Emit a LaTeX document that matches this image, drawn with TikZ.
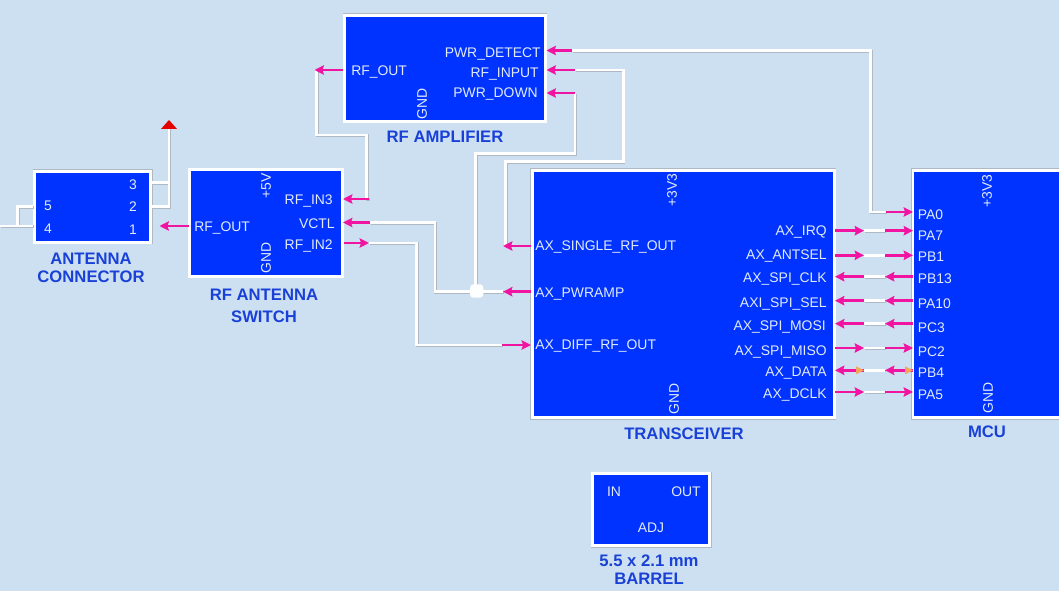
\documentclass[tikz,border=0pt]{standalone}
\usepackage{fontspec}
\setmainfont{Liberation Sans}
\usetikzlibrary{arrows.meta}
\definecolor{bgc}{RGB}{205,224,242}
\definecolor{boxc}{RGB}{0,51,255}
\definecolor{edgec}{RGB}{175,185,195}
\definecolor{txtc}{RGB}{225,235,250}
\definecolor{ttlc}{RGB}{25,65,215}
\definecolor{pinc}{RGB}{240,20,160}
\definecolor{orgc}{RGB}{245,165,90}
\newcommand{\lblfont}{\fontsize{10.45}{12}\selectfont}
\newcommand{\ttlfont}{\bfseries\fontsize{12.5}{13.4}\selectfont}
\tikzset{
  blk/.style 2 args={rectangle,fill=boxc,draw=white,line width=2.2pt,inner sep=0pt,
    preaction={draw=edgec,line width=3pt},
    minimum width=#1*0.75pt,minimum height=#2*0.75pt},
  lbl/.style={inner sep=0pt,text=txtc,font=\lblfont,text height=7.4pt,text depth=0pt},
  ll/.style={lbl,anchor=west},
  lr/.style={lbl,anchor=east},
  lv/.style={lbl,rotate=90},
  ttl/.style={inner sep=0pt,text=ttlc,font=\ttlfont,align=center},
  wire/.style={draw=white,line width=2pt,line join=miter,
    preaction={draw=edgec,line width=2pt,transform canvas={xshift=0.55pt,yshift=-0.55pt}}},
  pin/.style={draw=pinc,line width=2pt,-{Stealth[length=7pt,width=7pt,inset=1pt]}},
  junc/.style={rectangle,rounded corners=2.5pt,fill=white!96!bgc,inner sep=0pt,minimum size=10pt},
  otip/.style={fill=orgc},
}
\begin{document}
\begin{tikzpicture}[x=0.75pt,y=-0.75pt]
\clip (0,0) rectangle (1059,591);
\fill[bgc] (0,0) rectangle (1059,591);

% blocks
\node[blk={116}{71}]  (conn) at (92.5,207) {};
\node[blk={152.5}{106.5}] (sw) at (266.2,223.2) {};
\node[blk={200.5}{106}] (amp) at (445,68.5) {};
\node[blk={302}{247}] (trx) at (683.2,294) {};
\node[blk={200}{247}] (mcu) at (1013,294) {};
\node[blk={117}{72}] (bar) at (651,509.5) {};

% named pin and bend points
\coordinate (c3) at (152,182.7);
\coordinate (c2) at (152,206.7);
\coordinate (c5) at (33,206.7);
\coordinate (c4) at (33,226);
\coordinate (cfree) at (0,226);
\coordinate (ctop) at (169,127);
\coordinate (cw) at (159.5,226);
\coordinate (swo) at (188.5,226);
\coordinate (swi3) at (343,199);
\coordinate (swi3t) at (369,199);
\coordinate (swv) at (343,222.5);
\coordinate (swvt) at (370,222.5);
\coordinate (swi2) at (344,243);
\coordinate (swi2t) at (369,243);
\coordinate (ampo) at (343,70);
\coordinate (ampot) at (314.5,70);
\coordinate (ampd) at (546.5,50.5);
\coordinate (ampdt) at (572,50.5);
\coordinate (ampi) at (546.5,70);
\coordinate (ampit) at (575,70);
\coordinate (ampw) at (546.5,93);
\coordinate (ampwt) at (575,93);
\coordinate (trs) at (531,246);
\coordinate (trst) at (503,246);
\coordinate (trp) at (531,291.7);
\coordinate (trpt) at (503,291.7);
\coordinate (trd) at (531,345);
\coordinate (trdt) at (502,345);
\coordinate (m0) at (913,212);
\coordinate (m0t) at (886,212);

% white wires
\draw[wire] (c3) -- (169,182.7) (c2) -- (169,206.7) -- (ctop);
\draw[wire] (c5) -- (17.5,206.7) -- (17.5,226);
\draw[wire] (c4) -- (cfree);
\draw[wire] (swi3t) -- (366.7,199) -- (366.7,135) -- (316.7,135) -- (316.7,70);
\draw[wire] (swvt) -- (435,222.5) -- (435,291.7) -- (trpt);
\draw[wire] (swi2t) -- (416.7,243) -- (416.7,345) -- (trdt);
\draw[wire] (505.7,246) -- (505.7,161.7) -- (623.3,161.7) -- (623.3,70) -- (ampit);
\draw[wire] (475.7,291) -- (475.7,153.5) -- (575,153.5) -- (ampwt);
\node[junc] (j) at (476.7,291) {};
\draw[wire] (ampdt) -- (870.7,50.5) -- (870.7,212) -- (m0t);

% magenta stubs
\draw[pin] (swo) -- (cw);
\draw[pin] (swi3t) -- (swi3);
\draw[pin] (swvt) -- (swv);
\draw[pin] (swi2) -- (swi2t);
\draw[pin] (ampo) -- (ampot);
\draw[pin] (ampdt) -- (ampd);
\draw[pin] (ampit) -- (ampi);
\draw[pin] (ampwt) -- (ampw);
\draw[pin] (trs) -- (trst);
\draw[pin] (trp) -- (trpt);
\draw[pin] (trdt) -- (trd);
\draw[pin] (m0t) -- (m0);

% transceiver - MCU links
\foreach \n/\y/\d in {a/230.7/1,b/255.3/1,c/276.7/0,d/300.7/0,e/323.7/0,f/348/1,g/370.3/2,h/392/1}{
  \coordinate (t\n) at (835,\y);
  \coordinate (tm\n) at (864,\y);
  \coordinate (mm\n) at (885,\y);
  \coordinate (mc\n) at (913,\y);
  \draw[wire] (tm\n) -- (mm\n);
  \ifnum\d=1
    \draw[pin] (t\n) -- (tm\n);
    \draw[pin] (mm\n) -- (mc\n);
  \else
    \draw[pin] (tm\n) -- (t\n);
    \draw[pin] (mc\n) -- (mm\n);
    \ifnum\d=2
      \fill[otip] (tm\n) -- ++(-8,-4) -- ++(0,8) -- cycle;
      \fill[otip] (mc\n) -- ++(-8,-4) -- ++(0,8) -- cycle;
    \fi
  \fi
}

% red terminal
\fill[red!90!black] (169,120) -- (177,129) -- (161,129) -- cycle;

% labels: connector
\node[lbl] (l3) at (133,185) {3};
\node[lbl] (l2) at (133,207) {2};
\node[lbl] (l1) at (133,229.5) {1};
\node[lbl] (l5) at (48,205.5) {5};
\node[lbl] (l4) at (48,228.5) {4};
\node[ttl] (t1) at (91,268) {ANTENNA\\CONNECTOR};
% switch
\node[ll] (l6) at (194,226.5) {RF\_OUT};
\node[lr] (l7) at (333,199.5) {RF\_IN3};
\node[lr] (l8) at (335,223.5) {VCTL};
\node[lr] (l9) at (333,244.5) {RF\_IN2};
\node[lv] (l10) at (266,186) {+5V};
\node[lv] (l11) at (266,258) {GND};
\node[ttl] (t2) at (264,306) {RF ANTENNA\\[3pt]SWITCH};
% amplifier
\node[lr] (l12) at (541,53) {PWR\_DETECT};
\node[lr] (l13) at (539,73) {RF\_INPUT};
\node[lr] (l14) at (538,93) {PWR\_DOWN};
\node[ll] (l15) at (351,70.5) {RF\_OUT};
\node[lv] (l16) at (422,104) {GND};
\node[ttl] (t3) at (445,137) {RF AMPLIFIER};
% transceiver
\node[ll] (l17) at (535,246) {AX\_SINGLE\_RF\_OUT};
\node[ll] (l18) at (535,292.5) {AX\_PWRAMP};
\node[ll] (l19) at (535,344.5) {AX\_DIFF\_RF\_OUT};
\node[lv] (l20) at (672,190) {+3V3};
\node[lv] (l21) at (674,399) {GND};
\node[lr] (l22) at (827,231) {AX\_IRQ};
\node[lr] (l23) at (827,255) {AX\_ANTSEL};
\node[lr] (l24) at (827,277.5) {AX\_SPI\_CLK};
\node[lr] (l25) at (827,303) {AXI\_SPI\_SEL};
\node[lr] (l26) at (826,325.5) {AX\_SPI\_MOSI};
\node[lr] (l27) at (827,350.5) {AX\_SPI\_MISO};
\node[lr] (l28) at (827,371.5) {AX\_DATA};
\node[lr] (l29) at (827,393.5) {AX\_DCLK};
\node[ttl] (t4) at (684,434) {TRANSCEIVER};
% MCU
\node[ll] (m1) at (917.5,214.5) {PA0};
\node[ll] (m2) at (917.5,235.5) {PA7};
\node[ll] (m3) at (917.5,256.5) {PB1};
\node[ll] (m4) at (917.5,278.5) {PB13};
\node[ll] (m5) at (917.5,303.5) {PA10};
\node[ll] (m6) at (917.5,327.5) {PC3};
\node[ll] (m7) at (917.5,351.5) {PC2};
\node[ll] (m8) at (917.5,372.5) {PB4};
\node[ll] (m9) at (917.5,395) {PA5};
\node[lv] (m10) at (987,191) {+3V3};
\node[lv] (m11) at (988,398) {GND};
\node[ttl] (t5) at (987,432) {MCU};
% barrel
\node[lbl] (b1) at (614,491.5) {IN};
\node[lbl] (b2) at (686,491.5) {OUT};
\node[lbl] (b3) at (651,527.5) {ADJ};
\node[ttl] (t6) at (649,570) {5.5 x 2.1 mm\\BARREL};
\end{tikzpicture}
\end{document}
